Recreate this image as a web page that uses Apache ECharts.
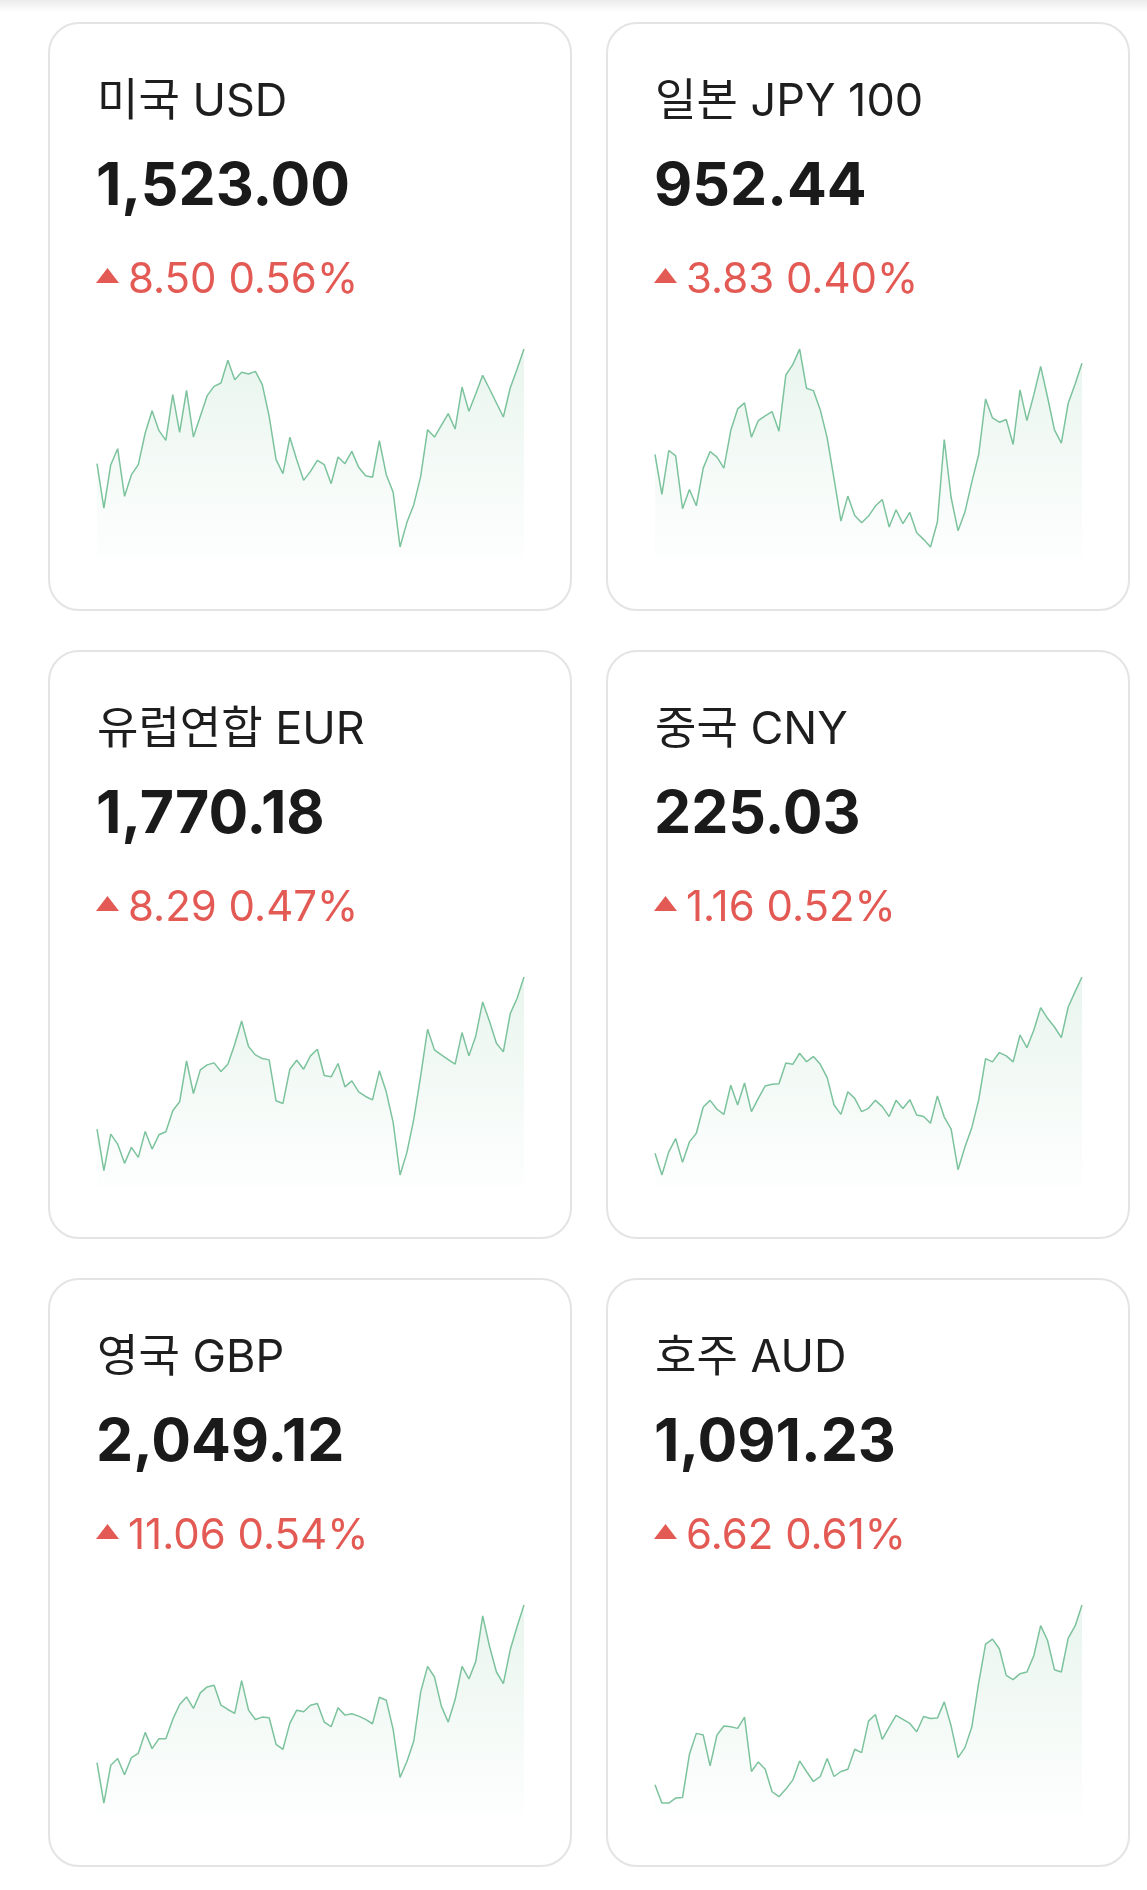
<!DOCTYPE html>
<html><head><meta charset="utf-8">
<script src="https://cdn.jsdelivr.net/npm/echarts@6/dist/echarts.min.js"></script>
<style>html,body{margin:0;padding:0;background:#fff}#c{width:1147px;height:1890px}</style>
</head><body><div id="c"></div>
<script>
const titles = ['미국 USD', '일본 JPY 100', '유럽연합 EUR', '중국 CNY', '영국 GBP', '호주 AUD'];
const prices = ['1,523.00', '952.44', '1,770.18', '225.03', '2,049.12', '1,091.23'];
const changeAmt = ['8.50', '3.83', '8.29', '1.16', '11.06', '6.62'];
const changePct = ['0.56%', '0.40%', '0.47%', '0.52%', '0.54%', '0.61%'];

const usd = [1488.6,1475.3,1488.3,1493.1,1478.8,1485.3,1488.3,1497.8,1504.5,1498.5,1495.6,1509.3,1498.0,1510.6,1496.6,1502.8,1509.0,1511.8,1512.8,1519.6,1513.8,1516.0,1515.5,1516.3,1512.3,1502.8,1489.8,1485.6,1496.5,1489.8,1483.6,1486.3,1489.6,1488.3,1482.6,1490.6,1488.6,1492.3,1487.5,1485.0,1484.5,1495.5,1485.3,1480.0,1463.6,1471.0,1476.3,1484.8,1498.8,1496.6,1500.1,1503.6,1499.0,1511.6,1504.3,1509.6,1515.1,1511.0,1506.8,1502.6,1511.3,1517.0,1523.0];
const jpy = [938.74,932.74,939.34,938.54,930.59,933.49,931.04,936.69,939.19,938.34,936.69,942.34,945.59,946.49,941.34,943.84,944.54,945.19,942.24,950.69,952.24,954.59,948.69,948.34,945.44,941.24,935.09,928.74,932.49,929.59,928.49,929.49,930.99,931.99,927.84,930.44,928.34,930.04,926.99,925.99,924.84,928.59,940.99,932.24,927.29,930.09,934.59,938.74,947.09,944.24,943.59,943.99,940.24,948.44,943.84,947.69,951.99,947.34,942.44,940.44,946.44,949.34,952.44];
const eur = [1701.63,1682.88,1699.38,1694.88,1686.18,1693.38,1688.88,1700.58,1692.63,1699.08,1700.43,1709.88,1713.93,1732.38,1717.68,1728.33,1730.58,1731.48,1727.58,1730.88,1739.88,1750.38,1738.83,1735.08,1733.43,1732.83,1714.38,1713.18,1728.63,1732.68,1728.63,1734.63,1737.63,1725.78,1725.18,1731.18,1720.68,1723.38,1718.43,1716.33,1714.83,1727.88,1718.43,1704.63,1680.93,1691.13,1706.13,1725.63,1746.63,1737.33,1735.08,1732.98,1730.88,1745.13,1734.63,1743.63,1758.93,1750.08,1740.33,1736.43,1753.68,1760.58,1770.18];
const cny = [217.10,216.12,217.16,217.76,216.69,217.61,218.00,219.18,219.48,219.08,218.85,220.16,219.27,220.26,218.97,219.57,220.13,220.20,220.23,221.16,221.10,221.60,221.22,221.45,221.10,220.50,219.27,218.85,219.87,219.57,218.97,219.12,219.48,219.20,218.75,219.48,219.11,219.51,218.82,218.75,218.45,219.68,218.73,218.18,216.36,217.38,218.25,219.50,221.36,221.21,221.63,221.48,221.21,222.42,221.85,222.63,223.65,223.17,222.78,222.30,223.68,224.37,225.03];
const gbp = [1968.37,1947.63,1967.01,1970.41,1962.08,1970.92,1973.13,1983.84,1975.51,1980.61,1980.61,1990.47,1998.12,2002.03,1996.08,2004.07,2007.13,2007.98,1997.78,1995.57,1993.53,2010.36,1995.23,1990.47,1991.66,1991.32,1977.72,1975.17,1988.43,1995.23,1994.38,1997.78,1998.63,1989.11,1986.73,1996.42,1992.68,1993.36,1992.17,1990.47,1988.26,2001.86,2000.33,1985.37,1960.72,1968.88,1979.42,2004.58,2017.67,2012.23,1997.27,1989.11,2000.67,2017.67,2011.21,2020.22,2043.51,2027.87,2014.78,2008.83,2026.17,2038.07,2049.12];
const aud = [1047.87,1043.47,1043.47,1044.67,1044.83,1055.23,1060.27,1059.87,1052.43,1059.87,1062.03,1061.87,1061.47,1064.19,1051.07,1053.39,1051.63,1046.19,1044.99,1046.83,1048.99,1053.63,1051.07,1048.67,1049.87,1054.19,1049.87,1051.07,1051.63,1056.43,1055.63,1063.23,1064.83,1058.83,1061.79,1064.59,1063.63,1062.67,1060.67,1064.35,1063.87,1063.95,1067.87,1062.03,1054.43,1056.83,1061.79,1072.43,1081.79,1082.99,1080.67,1074.27,1073.23,1074.67,1075.07,1078.99,1086.27,1082.67,1075.63,1075.07,1083.23,1086.19,1091.23];

const seriesData = [usd, jpy, eur, cny, gbp, aud];

const FONT = 'Inter, "Noto Sans CJK KR", sans-serif';
const cardW = 522, cardH = 587, colX = [49, 607], rowY = [23, 651, 1279];
const RED = '#e35a54';
const GREEN = '#7cc39d';

const chart = echarts.init(document.getElementById('c'), null, {renderer: 'canvas'});
const grids = [], xAxes = [], yAxes = [], series = [], graphics = [];

graphics.push({
  type: 'rect', shape: {x: 0, y: 0, width: 1147, height: 12}, silent: true,
  style: {fill: new echarts.graphic.LinearGradient(0, 0, 0, 1, [
    {offset: 0, color: 'rgba(0,0,0,0.08)'}, {offset: 1, color: 'rgba(0,0,0,0)'}])}
});

seriesData.forEach((d, i) => {
  const cx = colX[i % 2], cy = rowY[Math.floor(i / 2)];
  graphics.push({type: 'rect', silent: true, shape: {x: cx, y: cy, width: cardW, height: cardH, r: 30},
    style: {fill: null, stroke: '#e4e4e4', lineWidth: 2}});
  graphics.push({type: 'text', silent: true, x: cx + 48, y: cy + 79,
    style: {text: titles[i], font: '400 45px ' + FONT, fill: '#1e1e1e', verticalAlign: 'middle'}});
  graphics.push({type: 'text', silent: true, x: cx + 47, y: cy + 164,
    style: {text: prices[i], font: '700 59px ' + FONT, fill: '#1a1a1a', verticalAlign: 'middle'}});
  graphics.push({type: 'polygon', silent: true,
    shape: {points: [[cx + 47, cy + 260], [cx + 70, cy + 260], [cx + 58.5, cy + 245]]},
    style: {fill: RED}});
  graphics.push({type: 'text', silent: true, x: cx + 79, y: cy + 257,
    style: {text: changeAmt[i] + ' ' + changePct[i], font: '400 42px ' + FONT, fill: RED, verticalAlign: 'middle'}});

  grids.push({left: cx + 48, top: cy + 326, width: 427, height: 210});
  xAxes.push({type: 'category', gridIndex: i, show: false, boundaryGap: false});
  yAxes.push({type: 'value', gridIndex: i, show: false, scale: true,
    min: v => v.min - (v.max - v.min) * 0.0605, max: v => v.max});
  series.push({
    type: 'line', xAxisIndex: i, yAxisIndex: i, data: d, symbol: 'none', silent: true,
    lineStyle: {color: GREEN, width: 1.5},
    areaStyle: {color: new echarts.graphic.LinearGradient(0, 0, 0, 1, [
      {offset: 0, color: 'rgba(124,195,157,0.24)'}, {offset: 1, color: 'rgba(124,195,157,0.02)'}])}
  });
});

chart.setOption({
  animation: false,
  backgroundColor: '#ffffff',
  grid: grids, xAxis: xAxes, yAxis: yAxes, series: series,
  graphic: {elements: graphics}
});
</script>
</body></html>
